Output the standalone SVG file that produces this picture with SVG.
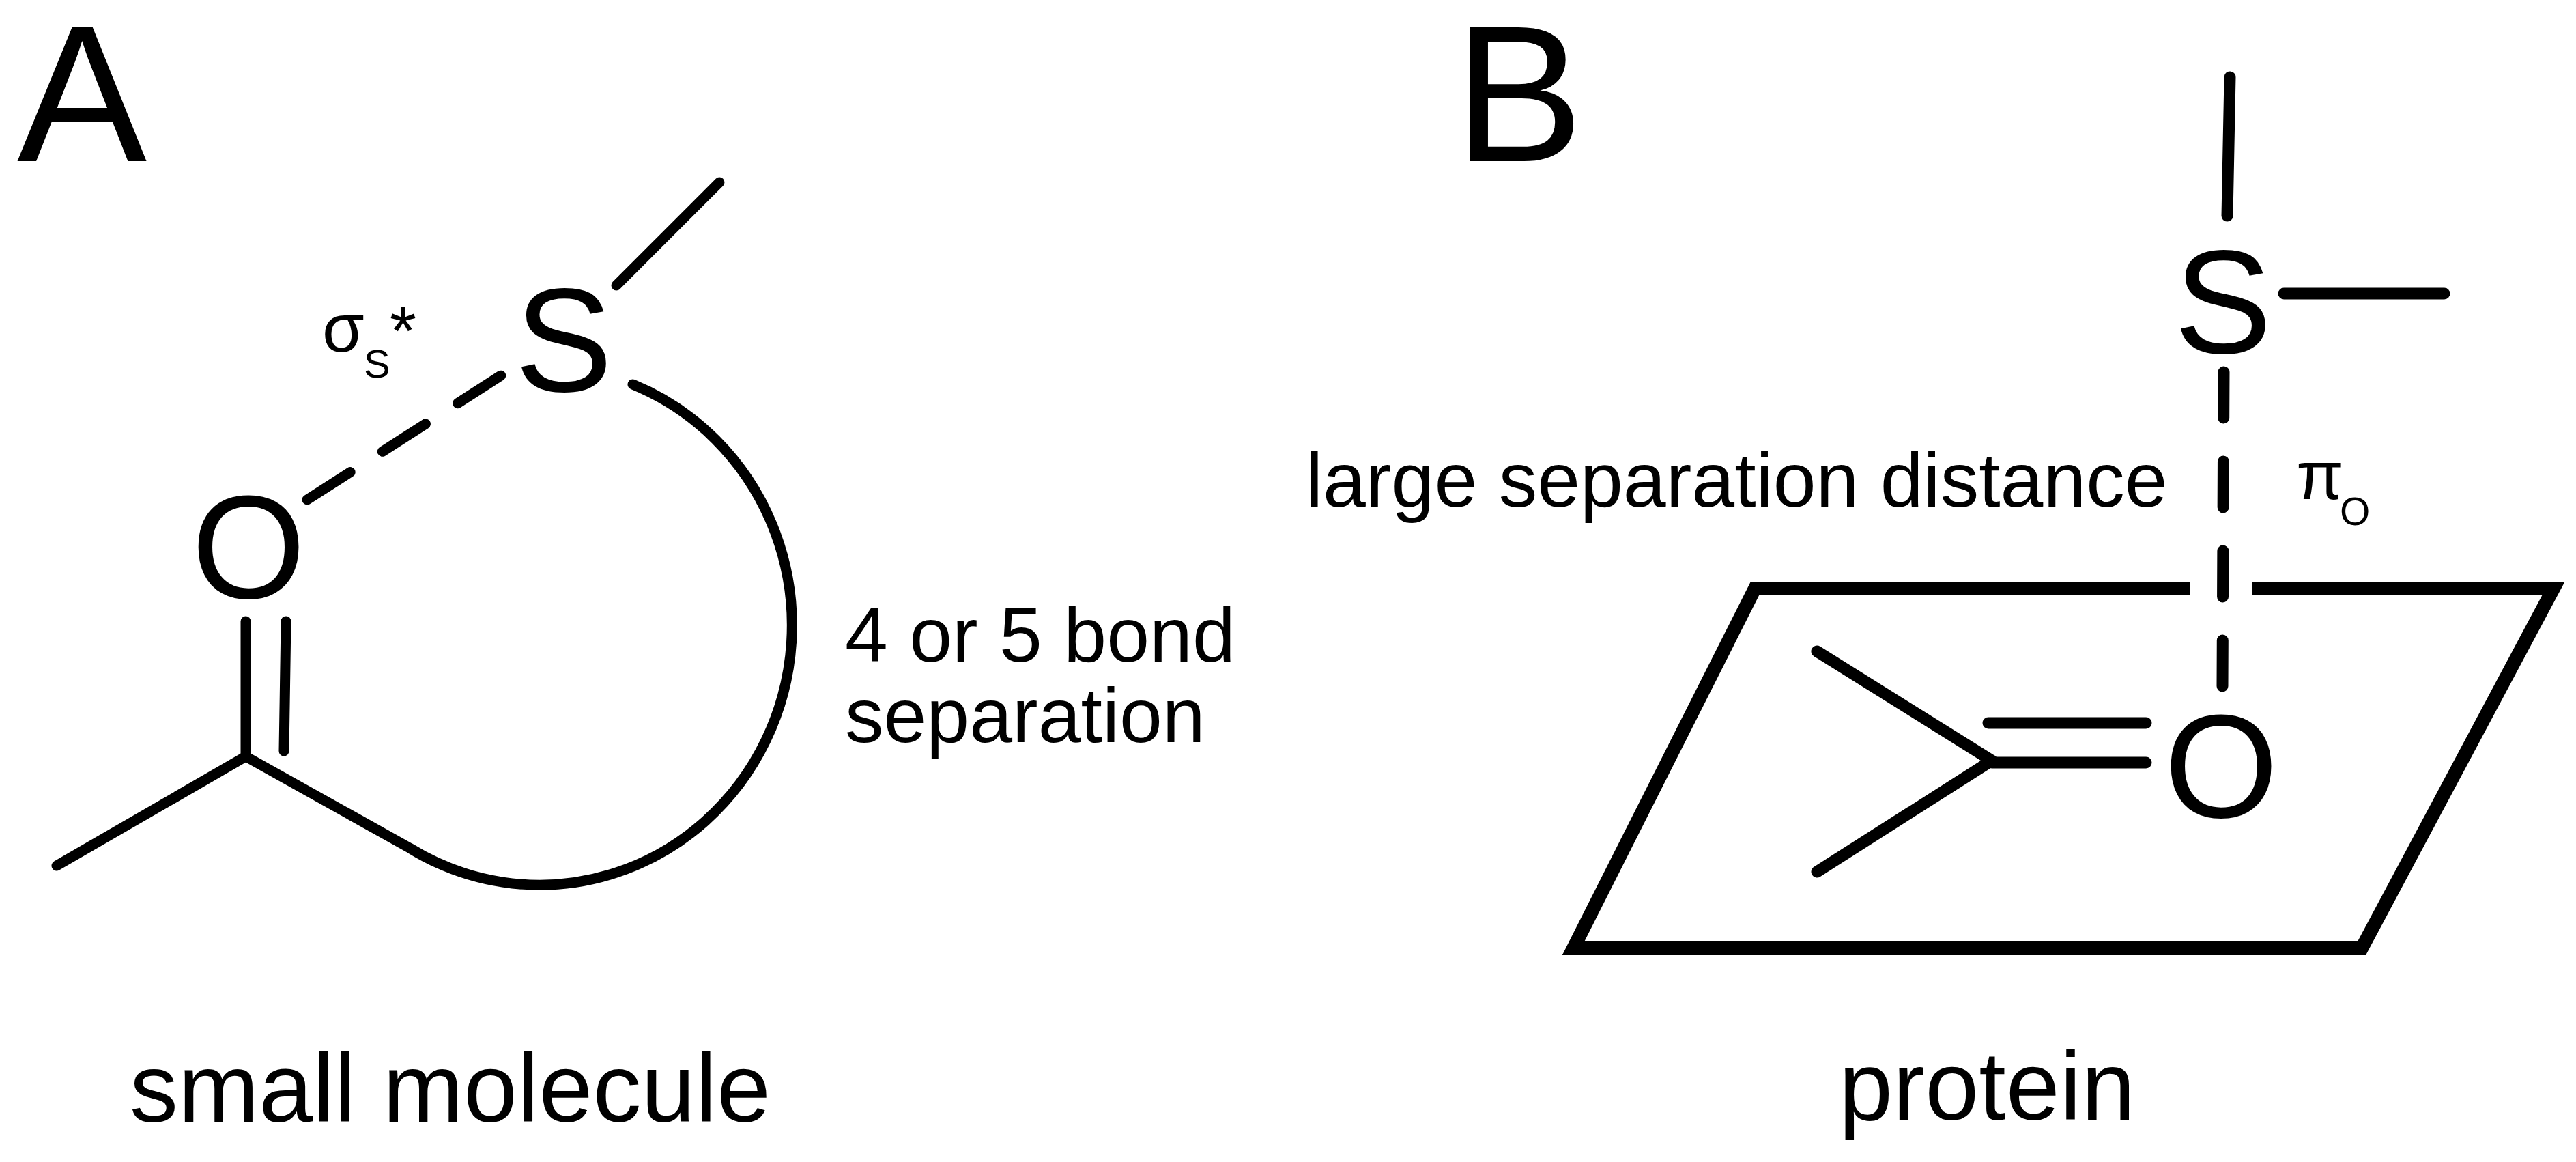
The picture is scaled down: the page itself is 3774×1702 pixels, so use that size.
<svg xmlns="http://www.w3.org/2000/svg" width="3774" height="1702" viewBox="0 0 3774 1702">
<style>
text{font-family:"Liberation Sans",Arial,sans-serif;fill:#000}
.b{fill:none;stroke:#000;stroke-width:15;stroke-linecap:round;stroke-linejoin:round}
.bb{fill:none;stroke:#000;stroke-width:17;stroke-linecap:round;stroke-linejoin:miter}
.atom{font-size:215px;text-anchor:middle}
.lbl{font-size:113px}
.cap{font-size:142px}
.pan{font-size:285px}
</style>
<rect width="3774" height="1702" fill="#fff"/>
<g id="panelA-label"><text class="pan" x="25" y="236">A</text></g>
<g id="panelB-label"><text class="pan" x="2130" y="236">B</text></g>

<g id="connectors">
  <line class="b" x1="903" y1="418" x2="1054" y2="267"/>
  <line class="b" x1="450" y1="732" x2="734" y2="550" stroke-dasharray="75 56" stroke-linecap="butt"/>
  <line class="b" x1="360" y1="910" x2="360" y2="1108"/>
  <line class="b" x1="419" y1="910" x2="416" y2="1100"/>
  <line class="b" x1="360" y1="1108" x2="83" y2="1268"/>
  <path class="b" d="M360,1108 L600,1242 A370,380 0 1 0 927,563"/>
  <line class="bb" x1="3267" y1="113" x2="3263" y2="316"/>
  <line class="bb" x1="3346" y1="430" x2="3581" y2="430"/>
  <line class="bb" x1="3258" y1="545" x2="3256" y2="1005" stroke-dasharray="67 64" stroke-linecap="butt"/>
  <line class="bb" x1="2662" y1="954" x2="2918" y2="1114"/>
  <line class="bb" x1="2918" y1="1114" x2="2662" y2="1277"/>
  <line class="bb" x1="2913" y1="1059" x2="3144" y2="1059"/>
  <line class="bb" x1="2918" y1="1117" x2="3144" y2="1117"/>
</g>

<g id="plane">
  <path fill="none" stroke="#000" stroke-width="20" stroke-linejoin="miter" d="M3209,862 L2571,862 L2305,1389 L3460,1389 L3741,862 L3299,862"/>
</g>

<g id="node-S-A"><text class="atom" x="826" y="573">S</text></g>
<g id="node-O-A"><text class="atom" x="364" y="876">O</text></g>
<g id="label-sigma">
  <text font-size="100" x="472" y="515">σ</text>
  <text font-size="58" x="533" y="553">S</text>
  <text font-size="100" x="571" y="519">*</text>
</g>
<g id="label-bond"><text class="lbl" x="1238" y="969">4 or 5 bond</text><text class="lbl" x="1238" y="1087">separation</text></g>
<g id="caption-A"><text class="cap" x="190" y="1643">small molecule</text></g>

<g id="node-S-B"><text class="atom" x="3257" y="517">S</text></g>
<g id="node-O-B"><text class="atom" x="3254" y="1197">O</text></g>
<g id="label-distance"><text class="lbl" x="1913" y="742">large separation distance</text></g>
<g id="label-pi">
  <text font-size="100" x="3364" y="731">π</text>
  <text font-size="57" x="3428" y="769">O</text>
</g>
<g id="caption-B"><text class="cap" x="2694" y="1640">protein</text></g>
</svg>
